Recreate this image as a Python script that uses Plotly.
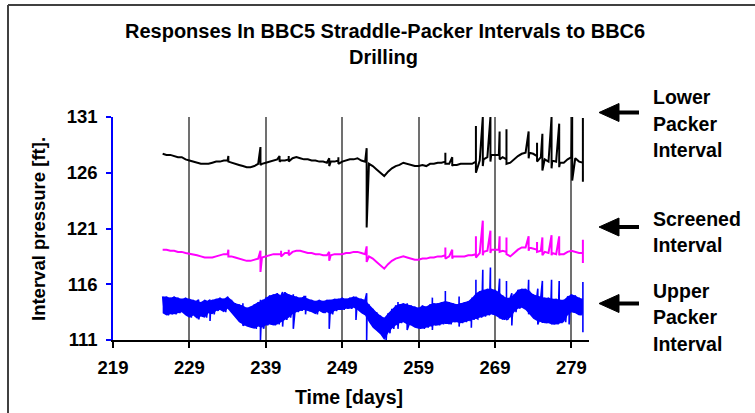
import plotly.graph_objects as go

# ---------------- data ----------------
days = [225.5, 226.0, 226.5, 227.0, 227.5, 228.0, 228.5, 229.0, 229.5, 230.0,
        230.5, 231.0, 231.5, 232.0, 232.5, 233.0, 233.5, 234.0, 234.5, 235.0,
        235.5, 236.0, 236.5, 237.0, 237.5, 238.0, 238.5, 239.0, 239.5, 240.0,
        240.5, 241.0, 241.5, 242.0, 242.5, 243.0, 243.5, 244.0, 244.5, 245.0,
        245.5, 246.0, 246.5, 247.0, 247.5, 248.0, 248.5, 249.0, 249.5, 250.0,
        250.5, 251.0, 251.5, 252.0, 252.5, 253.0, 253.5, 254.0, 254.5, 255.0,
        255.5, 256.0, 256.5, 257.0, 257.5, 258.0, 258.5, 259.0, 259.5, 260.0,
        260.5, 261.0, 261.5, 262.0, 262.5, 263.0, 263.5, 264.0, 264.5, 265.0,
        265.5, 266.0, 266.5, 267.0, 267.5, 268.0, 268.5, 269.0, 269.5, 270.0,
        270.5, 271.0, 271.5, 272.0, 272.5, 273.0, 273.5, 274.0, 274.5, 275.0,
        275.5, 276.0, 276.5, 277.0, 277.5, 278.0, 278.5, 279.0, 279.5, 280.0,
        280.5]

lower = [127.7, 127.6, 127.6, 127.5, 127.4, 127.4, 127.2, 127.1, 127.0, 126.9,
         126.8, 126.8, 126.8, 126.9, 127.0, 127.0, 127.1, 127.1, 126.9, 126.8,
         126.7, 126.6, 126.5, 126.5, 126.6, 126.8, 126.8, 126.9, 127.0, 127.1,
         127.2, 127.1, 127.1, 127.2, 127.3, 127.4, 127.3, 127.2, 127.2, 127.1,
         127.1, 127.0, 127.0, 126.9, 127.0, 127.0, 127.1, 127.0, 127.1, 127.2,
         127.2, 127.3, 127.1, 127.0, 126.8, 126.6, 126.3, 126.0, 125.7, 126.1,
         126.4, 126.6, 126.7, 126.9, 126.8, 126.7, 126.6, 126.6, 126.7, 126.6,
         126.8, 126.8, 126.9, 126.9, 127.0, 126.8, 126.7, 126.7, 126.8, 126.8,
         126.8, 126.8, 127.0, 127.1, 127.2, 127.4, 127.6, 127.6, 127.6, 127.4,
         127.2, 126.9, 127.2, 127.5, 127.7, 127.8, 127.8, 127.7, 127.5, 127.4,
         127.2, 127.0, 127.1, 127.0, 126.9, 126.9, 127.2, 127.4, 127.3, 127.0,
         126.9]
lower_spike_days = [234.1, 238.3, 240.8, 242.0, 247.3, 248.5, 252.2, 262.5, 263.4,
                    266.5, 267.4, 268.4, 269.6, 270.5, 273.4, 274.5, 275.2, 276.4,
                    277.4, 279.1, 280.5]
lower_spike_top = [127.5, 128.3, 127.5, 127.5, 127.3, 127.4, 128.2, 127.8, 127.4,
                   130.2, 131.0, 131.0, 129.7, 129.9, 129.7, 128.7, 129.5, 131.0,
                   130.4, 131.0, 130.9]
lower_spike_bot = [127.0, 126.7, 127.0, 127.0, 126.6, 126.8, 121.1, 126.8, 126.6,
                   126.0, 126.6, 127.0, 127.2, 126.8, 127.3, 127.0, 126.2, 126.4,
                   126.5, 125.3, 125.2]

screened = [119.1, 119.1, 119.0, 119.0, 118.9, 118.9, 118.8, 118.75, 118.7, 118.6,
            118.5, 118.4, 118.4, 118.4, 118.5, 118.6, 118.7, 118.7, 118.5, 118.4,
            118.3, 118.2, 118.1, 118.1, 118.2, 118.3, 118.4, 118.5, 118.6, 118.7,
            118.7, 118.7, 118.8, 118.8, 118.9, 119.0, 119.0, 118.9, 118.8, 118.8,
            118.7, 118.7, 118.6, 118.6, 118.6, 118.7, 118.7, 118.7, 118.8, 118.8,
            118.9, 118.9, 118.8, 118.7, 118.5, 118.3, 118.0, 117.7, 117.4, 117.8,
            118.1, 118.3, 118.4, 118.5, 118.4, 118.3, 118.2, 118.2, 118.3, 118.3,
            118.4, 118.4, 118.5, 118.5, 118.6, 118.5, 118.5, 118.5, 118.5, 118.5,
            118.6, 118.6, 118.7, 118.8, 118.9, 119.0, 119.1, 119.1, 119.1, 119.0,
            118.9, 118.5, 118.8, 119.1, 119.3, 119.3, 119.3, 119.2, 119.1, 119.0,
            118.9, 118.8, 118.8, 118.7, 118.7, 118.7, 118.9, 119.0, 118.9, 118.8,
            118.8]
screened_spike_days = [234.1, 238.3, 241.0, 242.0, 247.3, 252.2, 262.5, 263.4, 266.5,
                       267.4, 268.4, 269.6, 270.5, 273.4, 274.5, 275.2, 276.4, 277.4,
                       280.5]
screened_spike_top = [119.1, 119.0, 119.0, 119.1, 118.9, 119.4, 119.3, 119.1, 120.3,
                      121.7, 120.8, 120.3, 120.2, 120.3, 119.8, 120.2, 120.4, 120.3,
                      120.0]
screened_spike_bot = [118.5, 117.1, 118.5, 118.6, 118.1, 118.0, 118.3, 118.3, 118.4,
                      118.6, 118.8, 118.9, 118.7, 119.0, 118.9, 118.6, 118.6, 118.6,
                      117.9]

upper_hi = [114.9, 114.9, 114.8, 114.9, 114.8, 114.7, 114.8, 114.7, 114.6, 114.5,
            114.4, 114.6, 114.5, 114.6, 114.7, 114.8, 114.7, 114.9, 114.6, 114.3,
            114.2, 114.1, 113.9, 114.0, 114.2, 114.4, 114.5, 114.8, 115.0, 115.1,
            115.2, 115.0, 115.3, 115.1, 115.0, 114.9, 114.8, 114.9, 114.7, 114.6,
            114.5, 114.6, 114.5, 114.6, 114.6, 114.7, 114.7, 114.8, 114.7, 114.8,
            114.9, 114.8, 114.7, 114.6, 114.2, 113.8, 113.5, 113.2, 113.0, 113.4,
            113.8, 114.1, 114.2, 114.3, 114.2, 114.1, 114.0, 113.9, 114.1, 114.0,
            114.2, 114.3, 114.3, 114.4, 114.5, 114.4, 114.3, 114.2, 114.3, 114.4,
            114.5, 114.8, 115.2, 115.4, 115.5, 115.6, 115.6, 115.5, 115.3, 115.0,
            114.8, 114.8, 115.1, 115.5, 115.6, 115.6, 115.4, 115.1, 115.0, 114.9,
            114.8, 114.8, 114.7, 114.7, 114.6, 114.6, 114.9, 115.1, 115.0, 114.8,
            114.7]
upper_lo = [113.4, 113.2, 113.3, 113.3, 113.4, 113.5, 113.2, 113.0, 113.2, 112.9,
            113.1, 113.0, 113.4, 113.3, 113.6, 113.7, 113.5, 113.8, 113.4, 113.0,
            112.6, 112.4, 112.2, 112.1, 112.0, 112.2, 112.1, 112.3, 112.4, 112.3,
            112.4, 112.6, 112.8, 113.0, 113.3, 113.5, 113.6, 113.7, 113.6, 113.5,
            113.3, 113.6, 113.4, 113.5, 113.3, 113.6, 113.7, 113.7, 113.8, 113.8,
            113.9, 113.7, 113.4, 113.2, 112.6, 112.1, 111.8, 111.5, 111.0, 111.6,
            112.0, 112.3, 112.5, 112.6, 112.4, 112.3, 112.1, 112.0, 112.0, 112.1,
            112.2, 112.3, 112.3, 112.4, 112.5, 112.4, 112.6, 112.6, 112.5, 112.6,
            112.7, 112.8, 112.9, 113.0, 113.1, 113.2, 113.3, 113.2, 113.0, 112.8,
            112.9, 113.0, 113.5, 113.8, 113.9, 113.7, 113.3, 112.9, 112.7, 112.6,
            112.5, 112.5, 112.4, 112.4, 112.5, 112.6, 113.2, 113.5, 113.4, 113.2,
            113.3]
upper_spike_days = [230.2, 231.7, 236.0, 238.3, 238.7, 241.2, 242.6, 244.2, 247.3,
                    250.8, 252.2, 256.3, 257.5, 260.8, 262.5, 264.3, 265.9, 266.5,
                    267.4, 268.4, 269.6, 270.5, 271.2, 273.4, 274.6, 275.2, 276.4,
                    277.4, 278.7, 280.5]
upper_spike_top = [114.6, 114.6, 114.3, 114.6, 114.6, 115.3, 115.1, 114.9, 114.6,
                   114.9, 115.2, 114.4, 114.3, 114.8, 115.4, 114.9, 114.6, 116.4,
                   117.3, 117.5, 116.5, 116.3, 115.2, 116.4, 115.6, 116.3, 116.4,
                   116.3, 114.8, 116.2]
upper_spike_bot = [112.9, 112.7, 112.3, 111.0, 112.0, 112.2, 112.0, 113.3, 112.0,
                   112.8, 111.0, 112.0, 111.9, 111.9, 112.5, 112.2, 112.1, 113.0,
                   113.1, 113.3, 113.0, 112.8, 112.3, 113.3, 112.4, 112.6, 112.4,
                   112.5, 112.4, 111.7]

x_ticks = [219, 229, 239, 249, 259, 269, 279]
y_ticks = [111, 116, 121, 126, 131]


# ---------------- helpers ----------------
def with_spikes(xs, ys, sd, st, sb):
    pts = [(x, 0, y) for x, y in zip(xs, ys)]
    for d, t, b in zip(sd, st, sb):
        pts.append((d, 1, t))
        pts.append((d, 2, b))
    pts.sort(key=lambda p: (p[0], p[1]))
    return [p[0] for p in pts], [p[2] for p in pts]


def zigzag(xs, hi, lo):
    ox, oy = [], []
    for i, (x, h, l) in enumerate(zip(xs, hi, lo)):
        ox.append(x)
        oy.append(h)
        if i + 1 < len(xs):
            ox.append((x + xs[i + 1]) / 2)
            oy.append(l)
    return ox, oy


L, R, T, B = 113, 589, 117, 340
W, H = 755, 413


def fx(px):
    return (px - L) / (R - L)


def fy(py):
    return (B - py) / (B - T)


FONT = "Liberation Sans, Arial, sans-serif"
BLUE = "#0000ff"

fig = go.Figure()

# blue band envelope (upper packer interval)
fig.add_trace(go.Scatter(x=days, y=upper_hi, mode="lines", line=dict(width=0, color=BLUE),
                         hoverinfo="skip", showlegend=False))
fig.add_trace(go.Scatter(x=days, y=upper_lo, mode="lines", line=dict(width=0, color=BLUE),
                         fill="tonexty", fillcolor=BLUE, hoverinfo="skip", showlegend=False))

ux, uy = zigzag(days, upper_hi, upper_lo)
ux, uy = with_spikes(ux, uy, upper_spike_days, upper_spike_top, upper_spike_bot)
fig.add_trace(go.Scatter(x=ux, y=uy, mode="lines",
                         line=dict(color=BLUE, width=1.6),
                         name="Upper Packer Interval", hoverinfo="skip"))

sx, sy = with_spikes(days, screened, screened_spike_days, screened_spike_top, screened_spike_bot)
fig.add_trace(go.Scatter(x=sx, y=sy, mode="lines",
                         line=dict(color="#ff00ff", width=2),
                         name="Screened Interval", hoverinfo="skip"))

lx, ly = with_spikes(days, lower, lower_spike_days, lower_spike_top, lower_spike_bot)
fig.add_trace(go.Scatter(x=lx, y=ly, mode="lines",
                         line=dict(color="#000000", width=2),
                         name="Lower Packer Interval", hoverinfo="skip"))

fig.update_layout(
    width=W, height=H,
    margin=dict(l=L, r=W - R, t=T, b=H - B, pad=0),
    paper_bgcolor="white", plot_bgcolor="white",
    showlegend=False,
    font=dict(family=FONT, color="black"),
    xaxis=dict(range=[219, 281.3], tickvals=x_ticks, ticktext=[str(v) for v in x_ticks],
               showgrid=True, gridcolor="#707070", gridwidth=1.5,
               showline=True, linecolor="black", linewidth=1.5,
               ticks="outside", ticklen=6, tickcolor="black", tickwidth=1.5,
               ticklabelstandoff=4,
               tickfont=dict(size=18.5, weight="bold"), zeroline=False),
    yaxis=dict(range=[111, 131], tickvals=y_ticks, ticktext=[str(v) for v in y_ticks],
               showgrid=False, showline=True, linecolor=BLUE, linewidth=1.5,
               ticks="outside", ticklen=5, tickcolor=BLUE, tickwidth=1.5,
               ticklabelstandoff=5,
               tickfont=dict(size=18.5, weight="bold"), zeroline=False),
)

ann = []
# title
ann.append(dict(text="Responses In BBC5 Straddle-Packer Intervals to BBC6",
                x=fx(385), y=fy(31), xref="paper", yref="paper",
                xanchor="center", yanchor="middle", showarrow=False,
                font=dict(size=20, weight="bold")))
ann.append(dict(text="Drilling", x=fx(383), y=fy(57), xref="paper", yref="paper",
                xanchor="center", yanchor="middle", showarrow=False,
                font=dict(size=20, weight="bold")))
# axis titles
ann.append(dict(text="Time [days]", x=fx(349), y=fy(397), xref="paper", yref="paper",
                xanchor="center", yanchor="middle", showarrow=False,
                font=dict(size=19.5, weight="bold")))
ann.append(dict(text="Interval pressure [ft].", x=fx(38), y=fy(229), xref="paper",
                yref="paper", xanchor="center", yanchor="middle", textangle=-90,
                showarrow=False, font=dict(size=18.5, weight="bold")))
# right-hand labels
labels = [("Lower", 97), ("Packer", 123.5), ("Interval", 150),
          ("Screened", 218.5), ("Interval", 245),
          ("Upper", 291), ("Packer", 317), ("Interval", 343.5)]
for txt, py in labels:
    ann.append(dict(text=txt, x=fx(651), y=fy(py), xref="paper", yref="paper",
                    xanchor="left", yanchor="middle", showarrow=False,
                    font=dict(size=19.5, weight="bold")))
fig.update_layout(annotations=ann)

shapes = []
# outer frame (left and top)
shapes.append(dict(type="line", xref="paper", yref="paper",
                   x0=fx(8), y0=fy(5), x1=fx(8), y1=fy(430),
                   line=dict(color="#404040", width=2)))
shapes.append(dict(type="line", xref="paper", yref="paper",
                   x0=fx(8), y0=fy(5), x1=fx(770), y1=fy(5),
                   line=dict(color="#404040", width=2)))
# arrows
for ay in [112.5, 227, 303.5]:
    shapes.append(dict(type="line", xref="paper", yref="paper",
                       x0=fx(616), y0=fy(ay), x1=fx(639), y1=fy(ay),
                       line=dict(color="black", width=4)))
    path = "M {} {} L {} {} L {} {} Z".format(fx(599), fy(ay), fx(619), fy(ay - 9),
                                            fx(619), fy(ay + 9))
    shapes.append(dict(type="path", xref="paper", yref="paper", path=path,
                       fillcolor="black", line=dict(color="black", width=1)))
fig.update_layout(shapes=shapes)

fig.write_html("out.html")
